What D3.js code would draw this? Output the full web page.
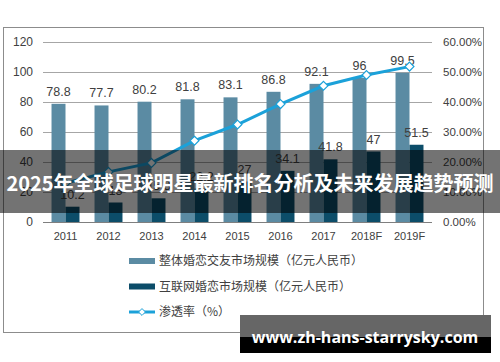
<!DOCTYPE html>
<html>
<head>
<meta charset="utf-8">
<script src="https://cdn.jsdelivr.net/npm/d3@7"></script>
<style>
  body { margin: 0; background: #fff; }
  text { font-family: "Liberation Sans", Arial, "Noto Sans CJK SC", sans-serif; }
</style>
</head>
<body>
<div id="chart"></div>
<script>
// data
var years = ["2011", "2012", "2013", "2014", "2015", "2016", "2017", "2018F", "2019F"];
var totalMarket = [78.8, 77.7, 80.2, 81.8, 83.1, 86.8, 92.1, 96, 99.5];
var onlineMarket = [10.2, 13.0, 15.8, 22.2, 27, 34.1, 41.8, 47, 51.5];
var penetration = [12.9, 16.7, 19.7, 27.1, 32.5, 39.3, 45.4, 49.0, 51.8];
var leftTicks = [0, 20, 40, 60, 80, 100, 120];
var rightTicks = [0, 10, 20, 30, 40, 50, 60];
var legendNames = ["整体婚恋交友市场规模（亿元人民币）", "互联网婚恋市场规模（亿元人民币）", "渗透率（%）"];
var bannerText = "2025年全球足球明星最新排名分析及未来发展趋势预测";
var watermark = "www.zh-hans-starrysky.com";

// basic dimensions
var width = 500;
var height = 362;
var plot = { left: 44, right: 431, top: 42, bottom: 222 };

var lightColour = "#5b8ba3";
var darkColour = "#0c4d69";
var lineColour = "#1ba1d9";
var textColour = "#404040";

var svg = d3.select("#chart")
    .append("svg")
    .attr("width", width)
    .attr("height", height);

// outer frame
svg.append("rect")
    .attr("x", 3.5)
    .attr("y", 27.5)
    .attr("width", 480)
    .attr("height", 305)
    .attr("fill", "#fff")
    .attr("stroke", "#8c8c8c");

// SCALES
var xScale = d3.scaleBand()
    .domain(years)
    .range([plot.left, plot.right])
    .paddingInner(0.35)
    .paddingOuter(0.175);

var xSub = d3.scaleBand()
    .domain(["total", "online"])
    .range([0, xScale.bandwidth()]);

var yScale = d3.scaleLinear().domain([0, 120]).range([plot.bottom, plot.top]);
var yRight = d3.scaleLinear().domain([0, 60]).range([plot.bottom, plot.top]);

// gridlines
svg.append("g")
    .selectAll("line")
    .data(leftTicks)
    .enter()
    .append("line")
    .attr("x1", 43)
    .attr("x2", 432)
    .attr("y1", function(d) { return Math.round(yScale(d)) + 0.5; })
    .attr("y2", function(d) { return Math.round(yScale(d)) + 0.5; })
    .attr("stroke", function(d) { return d === 0 ? "#7f7f7f" : "#a6a6a6"; })
    .attr("stroke-width", 1);

// left axis
var leftAxis = svg.append("g")
    .attr("transform", "translate(33,0)")
    .call(d3.axisLeft(yScale).tickValues(leftTicks).tickSize(0).tickPadding(0));
leftAxis.select(".domain").remove();
leftAxis.selectAll("text")
    .style("font-size", "12px")
    .attr("fill", textColour);

// right axis
var rightAxis = svg.append("g")
    .attr("transform", "translate(443,0)")
    .call(d3.axisRight(yRight).tickValues(rightTicks).tickSize(0).tickPadding(0)
        .tickFormat(function(d) { return d.toFixed(2) + "%"; }));
rightAxis.select(".domain").remove();
rightAxis.selectAll("text")
    .style("font-size", "11.5px")
    .attr("fill", textColour);

// bottom axis
var bottomAxis = svg.append("g")
    .attr("transform", "translate(0," + plot.bottom + ")")
    .call(d3.axisBottom(xScale).tickSize(0).tickPadding(10));
bottomAxis.select(".domain").remove();
bottomAxis.selectAll("text")
    .style("font-size", "11px")
    .attr("fill", textColour);

// bars
var groups = svg.append("g")
    .selectAll(".yearGroup")
    .data(years)
    .enter()
    .append("g")
    .attr("class", "yearGroup")
    .attr("transform", function(d) { return "translate(" + xScale(d) + ",0)"; });

groups.append("rect")
    .attr("x", xSub("total"))
    .attr("width", xSub.bandwidth())
    .attr("y", function(d, i) { return yScale(totalMarket[i]); })
    .attr("height", function(d, i) { return plot.bottom - yScale(totalMarket[i]); })
    .attr("fill", lightColour);

groups.append("rect")
    .attr("x", xSub("online"))
    .attr("width", xSub.bandwidth())
    .attr("y", function(d, i) { return yScale(onlineMarket[i]); })
    .attr("height", function(d, i) { return plot.bottom - yScale(onlineMarket[i]); })
    .attr("fill", darkColour);

// bar labels
groups.append("text")
    .attr("x", xSub("total") + xSub.bandwidth() / 2)
    .attr("y", function(d, i) { return yScale(totalMarket[i]) - 8; })
    .attr("text-anchor", "middle")
    .style("font-size", "12.5px")
    .attr("fill", textColour)
    .text(function(d, i) { return totalMarket[i]; });

groups.append("text")
    .attr("x", xSub("online") + xSub.bandwidth() / 2)
    .attr("y", function(d, i) { return yScale(onlineMarket[i]) - 8; })
    .attr("text-anchor", "middle")
    .style("font-size", "12.5px")
    .attr("fill", textColour)
    .text(function(d, i) { return onlineMarket[i]; });

// penetration line
var lineGen = d3.line()
    .x(function(d, i) { return xScale(years[i]) + xScale.bandwidth() / 2; })
    .y(function(d) { return yRight(d); });

svg.append("path")
    .datum(penetration)
    .attr("d", lineGen)
    .attr("fill", "none")
    .attr("stroke", lineColour)
    .attr("stroke-width", 3);

var diamond = d3.symbol().type(d3.symbolDiamond2).size(50);

svg.append("g")
    .selectAll("path")
    .data(penetration)
    .enter()
    .append("path")
    .attr("d", diamond)
    .attr("transform", function(d, i) {
        return "translate(" + (xScale(years[i]) + xScale.bandwidth() / 2) + "," + yRight(d) + ")";
    })
    .attr("fill", "#fff")
    .attr("stroke", lineColour)
    .attr("stroke-width", 1.2);

// legend
var legend = svg.append("g")
    .selectAll(".legendItem")
    .data(legendNames)
    .enter()
    .append("g")
    .attr("class", "legendItem")
    .attr("transform", function(d, i) { return "translate(129," + (261 + i * 25.5) + ")"; });

legend.filter(function(d, i) { return i < 2; })
    .append("rect")
    .attr("x", 0)
    .attr("y", -3)
    .attr("width", 26)
    .attr("height", 6)
    .attr("fill", function(d, i) { return i === 0 ? lightColour : darkColour; });

var lineItem = legend.filter(function(d, i) { return i === 2; });
lineItem.append("line")
    .attr("x1", 0)
    .attr("x2", 26)
    .attr("stroke", lineColour)
    .attr("stroke-width", 3);
lineItem.append("path")
    .attr("d", d3.symbol().type(d3.symbolDiamond2).size(30))
    .attr("transform", "translate(13,0)")
    .attr("fill", "#fff")
    .attr("stroke", lineColour);

legend.append("text")
    .attr("x", 30)
    .attr("dy", "0.35em")
    .style("font-size", "12px")
    .style("font-family", "'Noto Sans CJK SC', sans-serif")
    .attr("fill", textColour)
    .text(function(d) { return d; });

// title banner overlay
svg.append("rect")
    .attr("x", 0)
    .attr("y", 150)
    .attr("width", width)
    .attr("height", 63)
    .attr("fill", "rgba(0,0,0,0.55)");

svg.append("text")
    .attr("x", width / 2)
    .attr("y", 184)
    .attr("dy", "0.35em")
    .attr("text-anchor", "middle")
    .style("font-size", "20px")
    .style("font-weight", "bold")
    .style("font-family", "'Noto Sans CJK SC', sans-serif")
    .attr("fill", "#fff")
    .text(bannerText);

// watermark
svg.append("rect")
    .attr("x", 240)
    .attr("y", 315)
    .attr("width", 251)
    .attr("height", 22)
    .attr("fill", "#666");
svg.append("rect")
    .attr("x", 240)
    .attr("y", 337)
    .attr("width", 251)
    .attr("height", 16)
    .attr("fill", "#000");
svg.append("text")
    .attr("x", 365)
    .attr("y", 337)
    .attr("dy", "0.35em")
    .attr("text-anchor", "middle")
    .style("font-size", "16px")
    .style("font-weight", "bold")
    .style("font-family", "'Open Sans', sans-serif")
    .attr("fill", "#fff")
    .text(watermark);
</script>
</body>
</html>
